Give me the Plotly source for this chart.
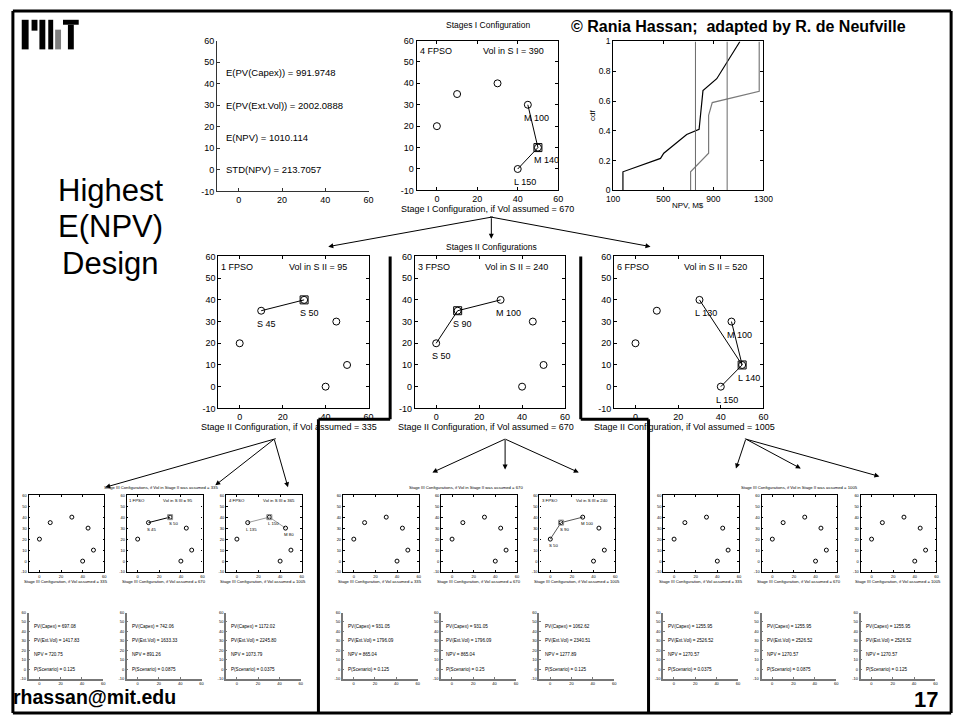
import plotly.graph_objects as go

W, H = 968, 726
FONT = "Liberation Sans, Arial, sans-serif"

# ---------------- data ----------------
well_x = [0, 10, 30, 45, 50, 40]
well_y = [20, 35, 40, 30, 10, 0]

summary_names = ["E(PV(Capex))", "E(PV(Ext.Vol))", "E(NPV)", "STD(NPV)"]
summary_values = ["991.9748", "2002.0888", "1010.114", "213.7057"]
text_rows = [45, 30, 15, 0]

stage1_fpso = "4 FPSO"
stage1_vol = 390
stage1_assumed = 670
stage1_paths = [[3, 4, 5]]
stage1_hub = 4
stage1_labels = {3: "M 100", 4: "M 140", 5: "L 150"}

cdf1_npv = [178, 178, 478, 504, 687, 786, 817, 927, 1112]
cdf1_p = [0, 0.125, 0.215, 0.25, 0.375, 0.41, 0.67, 0.75, 1.0]
cdf2_npv = [718, 718, 862, 862, 891, 1266, 1266]
cdf2_p = [0, 0.125, 0.25, 0.505, 0.59, 0.665, 1.0]
cdf_marks = [757, 1010]

stage2_fpso = ["1 FPSO", "3 FPSO", "6 FPSO"]
stage2_vol = [95, 240, 520]
stage2_assumed = [335, 670, 1005]
stage2_paths = [[[1, 2]], [[0, 1, 2]], [[2, 4], [3, 4], [5, 4]]]
stage2_hub = [2, 1, 4]
stage2_labels = [{1: "S 45", 2: "S 50"},
                 {0: "S 50", 1: "S 90", 2: "M 100"},
                 {2: "L 130", 3: "M 100", 4: "L 140", 5: "L 150"}]

stage3_assumed = [335, 670, 1005]
stage3_fpso = [[None, "1 FPSO", "4 FPSO"], [None, None, "3 FPSO"], [None, None, None]]
stage3_vol = [[None, 95, 365], [None, None, 240], [None, None, None]]
stage3_paths = [[[], [[1, 2]], [[1, 2, 3]]], [[], [], [[0, 1, 2]]], [[], [], []]]
stage3_hub = [[None, 2, 2], [None, None, 1], [None, None, None]]
stage3_labels = [[{}, {1: "S 45", 2: "S 50"}, {1: "L 135", 2: "L 150", 3: "M 80"}],
                 [{}, {}, {0: "S 50", 1: "S 90", 2: "M 100"}],
                 [{}, {}, {}]]
stage3_linecolor = [[None, "black", "#9a9a9a"], [None, None, "#555555"], [None, None, None]]

pv_capex = [[697.08, 742.06, 1172.02], [931.05, 931.05, 1062.62], [1255.95, 1255.95, 1255.95]]
pv_extvol = [[1417.83, 1633.33, 2245.80], [1796.09, 1796.09, 2340.51], [2526.52, 2526.52, 2526.52]]
npv_vals = [[720.75, 891.26, 1073.79], [865.04, 865.04, 1277.89], [1270.57, 1270.57, 1270.57]]
p_scen = [[0.125, 0.0875, 0.0375], [0.125, 0.25, 0.125], [0.0375, 0.0875, 0.125]]

pos_ticks = [0, 20, 40, 60]
pos_yticks = [-10, 0, 10, 20, 30, 40, 50, 60]
npv_ticks = [100, 500, 900, 1300]
cdf_ticks = [0, 0.2, 0.4, 0.6, 0.8, 1]
cdf_ticktext = ["0", "0.2", "0.4", "0.6", "0.8", "1"]

# ---------------- helpers ----------------
fig = go.Figure()
layout = dict(width=W, height=H, margin=dict(l=0, r=0, t=0, b=0),
              paper_bgcolor="white", plot_bgcolor="white", showlegend=False,
              font=dict(family=FONT, color="black"))
ann = []
shapes = []
axn = [0]


def new_axes(rect, xr, yr, xt, yt, xtt=None, ytt=None, box=True, fs=9,
             tl=3, lw=1, lc="black"):
    axn[0] += 1
    n = axn[0]
    s = "" if n == 1 else str(n)
    l, t, r, b = rect
    common = dict(showgrid=False, zeroline=False, showline=True, linecolor=lc,
                  linewidth=lw, ticks="inside", ticklen=tl, tickwidth=1,
                  tickcolor=lc, tickfont=dict(size=fs, family=FONT, color="black"),
                  mirror="allticks" if box else False, fixedrange=True,
                  tickmode="array")
    layout["xaxis" + s] = dict(domain=[l / W, r / W], range=xr, tickvals=xt,
                               ticktext=xtt or [str(v) for v in xt],
                               anchor="y" + s, **common)
    layout["yaxis" + s] = dict(domain=[1 - b / H, 1 - t / H], range=yr, tickvals=yt,
                               ticktext=ytt or [str(v) for v in yt],
                               anchor="x" + s, **common)
    return "x" + s, "y" + s


def txt(x, y, s, size, xanchor="center", yanchor="middle", bold=False, angle=0):
    ann.append(dict(x=x / W, y=1 - y / H, xref="paper", yref="paper",
                    text=f"<b>{s}</b>" if bold else s, showarrow=False,
                    xanchor=xanchor, yanchor=yanchor, textangle=angle,
                    font=dict(size=size, family=FONT, color="black")))


def dtxt(xa, ya, x, y, s, size, color="black"):
    ann.append(dict(x=x, y=y, xref=xa, yref=ya, text=s, showarrow=False,
                    xanchor="left", yanchor="middle",
                    font=dict(size=size, family=FONT, color=color)))


def arrow(tail, head, width=1, size=1.0):
    ann.append(dict(x=head[0] / W, y=1 - head[1] / H, xref="paper", yref="paper",
                    ax=tail[0] - head[0], ay=tail[1] - head[1], axref="pixel",
                    ayref="pixel", text="", showarrow=True, arrowhead=2,
                    arrowsize=size, arrowwidth=width, arrowcolor="black",
                    standoff=0))


def scatter_panel(rect, fpso, vol_text, paths, hub, labels, line_color,
                  sq_color, fs_tick, fs_text, msize, sqsize, tl, lw, mlw):
    xa, ya = new_axes(rect, [-10, 60], [-10, 60], pos_ticks, pos_yticks,
                      fs=fs_tick, tl=tl, lw=lw)
    for p in paths:
        fig.add_trace(go.Scatter(x=[well_x[i] for i in p], y=[well_y[i] for i in p],
                                 mode="lines", line=dict(color=line_color, width=mlw),
                                 xaxis=xa, yaxis=ya, hoverinfo="skip"))
    fig.add_trace(go.Scatter(x=well_x, y=well_y, mode="markers",
                             marker=dict(symbol="circle-open", size=msize, color="black",
                                         line=dict(width=mlw, color="black")),
                             xaxis=xa, yaxis=ya, hoverinfo="skip"))
    if hub is not None:
        fig.add_trace(go.Scatter(x=[well_x[hub]], y=[well_y[hub]], mode="markers",
                                 marker=dict(symbol="square-open", size=sqsize,
                                             color=sq_color,
                                             line=dict(width=mlw, color=sq_color)),
                                 xaxis=xa, yaxis=ya, hoverinfo="skip"))
    for i, lab in labels.items():
        dtxt(xa, ya, well_x[i] - 3, well_y[i] - 6, lab, fs_text)
    if fpso:
        dtxt(xa, ya, -9.5, 55, fpso, fs_text)
    if vol_text:
        dtxt(xa, ya, 22, 55, vol_text, fs_text)


def text_panel(rect, lines, fs_tick, fs_text, tl, lw, lc):
    xa, ya = new_axes(rect, [-10, 60], [-10, 60], pos_ticks, pos_yticks,
                      box=False, fs=fs_tick, tl=tl, lw=lw, lc=lc)
    for s, yv in zip(lines, text_rows):
        dtxt(xa, ya, -7, yv, s, fs_text)


# ---------------- top row ----------------
text_panel((214, 36, 368, 189),
           [f"{n} = {v}" for n, v in zip(summary_names, summary_values)],
           9, 9.5, 3, 1.2, "#333333")

scatter_panel((417, 36, 561, 188), stage1_fpso, f"Vol in S I = {stage1_vol}",
              stage1_paths, stage1_hub, stage1_labels, "black", "black",
              9, 9, 7, 8, 3, 1, 1)
txt(490, 20, "Stages I Configuration", 8.5)
txt(489, 207, f"Stage I Configuration, if Vol assumed = {stage1_assumed}", 9)

xa, ya = new_axes((617, 37, 770, 188), [100, 1300], [0, 1], npv_ticks, cdf_ticks,
                  ytt=cdf_ticktext, fs=8.5, tl=3, lw=1)
fig.add_trace(go.Scatter(x=cdf1_npv, y=cdf1_p, mode="lines",
                         line=dict(color="black", width=1.2), xaxis=xa, yaxis=ya))
fig.add_trace(go.Scatter(x=cdf2_npv, y=cdf2_p, mode="lines",
                         line=dict(color="#7a7a7a", width=1.2), xaxis=xa, yaxis=ya))
for v in cdf_marks:
    fig.add_trace(go.Scatter(x=[v, v], y=[0, 1], mode="lines",
                             line=dict(color="#6a6a6a", width=1), xaxis=xa, yaxis=ya))
txt(596, 112, "cdf", 8, angle=-90)
txt(693, 203, "NPV, M$", 8)

# ---------------- stage II row ----------------
stage2_rects = [(215, 255, 368, 409), (415, 255, 568, 409), (618, 255, 770, 409)]
for k in range(3):
    scatter_panel(stage2_rects[k], stage2_fpso[k], f"Vol in S II = {stage2_vol[k]}",
                  stage2_paths[k], stage2_hub[k], stage2_labels[k], "black", "black",
                  9, 9, 7, 8, 3, 1, 1)
    l, t, r, b = stage2_rects[k]
    txt((l + r) / 2 - 4, 428,
        f"Stage II Configuration, if Vol assumed = {stage2_assumed[k]}", 9)
txt(493, 245, "Stages II Configurations", 8.5)

# ---------------- stage III rows ----------------
group_lefts = [[22, 122, 223], [342, 442, 542], [668, 768, 869]]
group_title_x = [157, 467, 807]
for g in range(3):
    txt(group_title_x[g], 489,
        f"Stage III Configurations, if Vol in Stage II was assumed = {stage3_assumed[g]}",
        4.2)
    for k in range(3):
        l = group_lefts[g][k]
        rect = (l, 497, l + 77, 575)
        vt = f"Vol in S III = {stage3_vol[g][k]}" if stage3_vol[g][k] else None
        scatter_panel(rect, stage3_fpso[g][k], vt, stage3_paths[g][k],
                      stage3_hub[g][k], stage3_labels[g][k],
                      stage3_linecolor[g][k] or "black", "#8a8a8a",
                      4, 4.3, 4, 5, 1.5, 1.2, 1)
        txt(l + 38, 585,
            f"Stage III Configuration, if Vol assumed = {stage3_assumed[k]}", 4.2)
        trect = (l, 616, l + 76, 683)
        lines = [f"PV(Capex) = {pv_capex[g][k]:.2f}",
                 f"PV(Ext.Vol) = {pv_extvol[g][k]:.2f}",
                 f"NPV = {npv_vals[g][k]:.2f}",
                 f"P(Scenario) = {p_scen[g][k]:g}"]
        text_panel(trect, lines, 4, 4.6, 1.5, 1.8, "#777777")

# ---------------- arrows ----------------
arrow((493, 215), (327, 245))
arrow((493, 215), (493, 237))
arrow((493, 215), (655, 245))
arrow((272, 440), (100, 489))
arrow((272, 440), (212, 487))
arrow((272, 440), (286, 489))
arrow((507, 440), (433, 474))
arrow((507, 440), (507, 471))
arrow((507, 440), (582, 474))
arrow((752, 440), (742, 470))
arrow((752, 440), (808, 470))
arrow((752, 440), (888, 478))

# ---------------- slide decorations ----------------
txt(745, 22, "© Rania Hassan;  adapted by R. de Neufville", 16, bold=True)
txt(105, 188, "Highest", 31)
txt(105, 225, "E(NPV)", 31)
txt(105, 262, "Design", 31)
txt(4, 702, "rhassan@mit.edu", 19.5, xanchor="left", bold=True)
txt(950, 704, "17", 22, xanchor="right", bold=True)


def prect(x0, y0, x1, y1, color="black"):
    shapes.append(dict(type="rect", xref="paper", yref="paper",
                       x0=x0 / W, x1=x1 / W, y0=1 - y1 / H, y1=1 - y0 / H,
                       fillcolor=color, line=dict(width=0)))


# MIT logo
prect(15, 15, 22, 45)
prect(25, 15, 31, 26)
prect(33, 15, 39, 45)
prect(42, 15, 47, 45)
prect(49, 25, 55, 45, "#7f7f7f")
prect(57, 15, 73, 20)
prect(62, 20, 68, 45)


def pline(pts, width=3):
    for (x0, y0), (x1, y1) in zip(pts[:-1], pts[1:]):
        shapes.append(dict(type="line", xref="paper", yref="paper",
                           x0=x0 / W, x1=x1 / W, y0=1 - y0 / H, y1=1 - y1 / H,
                           line=dict(color="black", width=width)))


pline([(6, 6), (961, 6), (961, 718), (6, 718), (6, 6)], 3)
pline([(390, 255), (390, 420), (317, 420), (317, 718)], 3)
pline([(584, 255), (584, 420), (653, 420), (653, 718)], 3)

layout["annotations"] = ann
layout["shapes"] = shapes
fig.update_layout(**layout)
fig.write_html(
    "out.html",
    config={"displayModeBar": False},
    post_script="document.body.style.margin='0';"
                "document.body.style.overflow='hidden';"
                "document.documentElement.style.overflow='hidden';",
)
